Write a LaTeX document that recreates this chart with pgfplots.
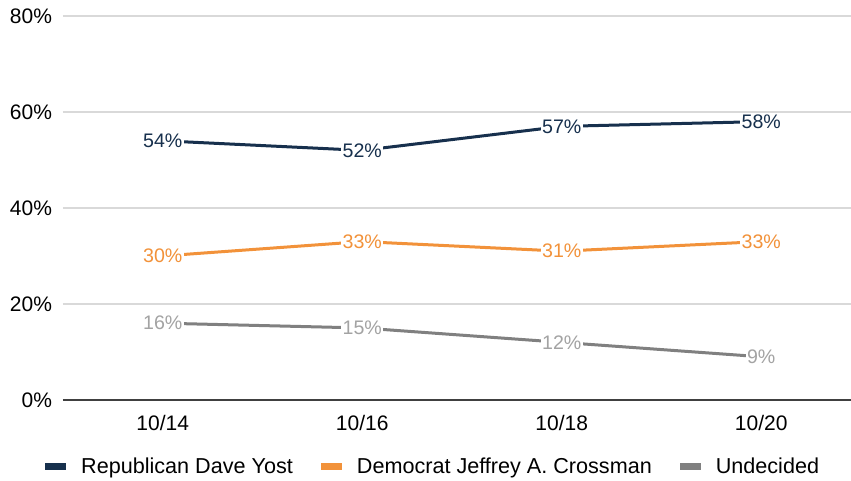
\documentclass[border=0pt]{standalone}
\usepackage{fontspec}
\setmainfont{Liberation Sans}
\usepackage{pgfplots}
\pgfplotsset{compat=1.18}
\usetikzlibrary{calc}

\definecolor{yost}{HTML}{17304D}
\definecolor{cross}{HTML}{F2923A}
\definecolor{undec}{HTML}{808080}
\definecolor{undeclbl}{HTML}{A3A3A3}
\definecolor{gridc}{HTML}{D9D9D9}
\definecolor{axc}{HTML}{404040}

\pgfplotstableread{
x yost cross undec
0 54 30 16
1 52 33 15
2 57 31 12
3 58 33 9
}\polls

\begin{document}
\begin{tikzpicture}
\begin{axis}[
    name=ax,
    scale only axis,
    width=394pt, height=192pt,
    xmin=-0.5, xmax=3.45,
    ymin=0, ymax=80,
    ytick={0,20,40,60,80},
    xtick={0,1,2,3},
    xticklabels={10/14,10/16,10/18,10/20},
    yticklabel={\pgfmathprintnumber{\tick}\%},
    /pgf/number format/assume math mode=true,
    axis y line*=left,
    y axis line style={draw=none},
    axis x line*=bottom,
    x axis line style={-, color=axc, line width=0.9pt},
    major tick length=0pt,
    ymajorgrids,
    grid style={gridc, line width=0.8pt},
    tick label style={font=\fontsize{10.5}{12}\selectfont, text=black},
    yticklabel style={xshift=-2pt},
    xticklabel style={yshift=-4pt},
    every axis plot/.append style={line width=1.5pt, mark=none},
    nodes near coords={\pgfmathprintnumber{\pgfplotspointmeta}\%},
    every node near coord/.append style={anchor=center, fill=white, inner sep=0.6pt,
        font=\fontsize{9.8}{11}\selectfont},
    legend columns=-1,
    legend style={at={(0.471,-0.1745)}, anchor=center, draw=none,
        font=\fontsize{10.8}{12}\selectfont,
        /tikz/every even column/.append style={column sep=12pt}},
    legend image code/.code={%
        \pgfpathrectangle{\pgfpoint{0pt}{-1.75pt}}{\pgfpoint{16pt}{3.5pt}}%
        \pgfusepath{use as bounding box}%
        \pgfpathrectangle{\pgfpoint{0pt}{-1.75pt}}{\pgfpoint{10.5pt}{3.5pt}}%
        \pgfusepath{fill}},
]
\addplot[color=yost, every node near coord/.append style={text=yost}] table[x=x, y=yost] {\polls};
\addplot[color=cross, every node near coord/.append style={text=cross}] table[x=x, y=cross] {\polls};
\addplot[color=undec, every node near coord/.append style={text=undeclbl}] table[x=x, y=undec] {\polls};
\legend{Republican Dave Yost, Democrat Jeffrey A. Crossman, Undecided}
\end{axis}
\pgfresetboundingbox
\path[use as bounding box] ($(ax.south west)+(-31.5pt,-40.5pt)$) rectangle ($(ax.north east)+(0pt,8pt)$);
\end{tikzpicture}
\end{document}
